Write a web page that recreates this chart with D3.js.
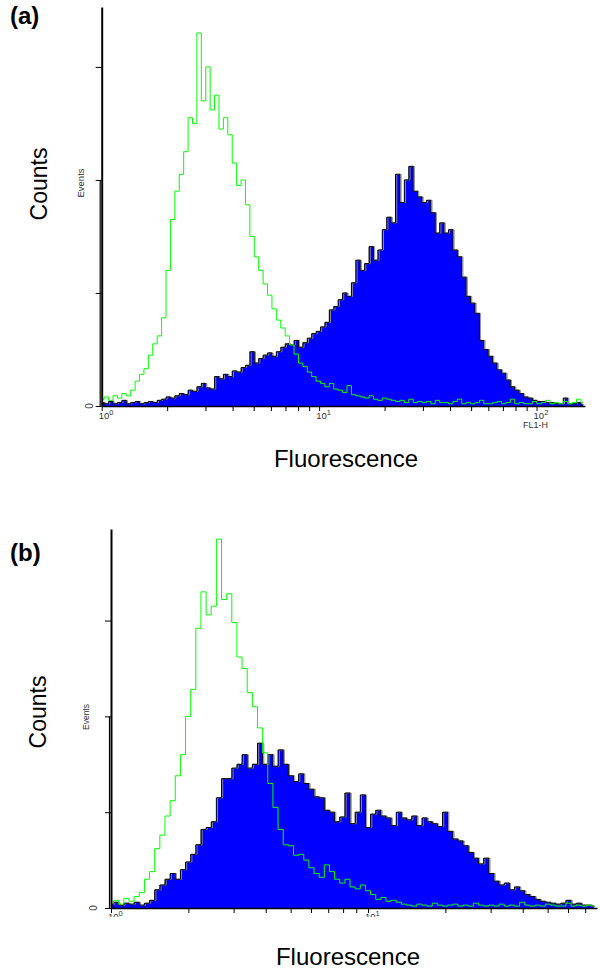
<!DOCTYPE html>
<html lang="en">
<head>
  <meta charset="UTF-8">
  <title>Fluorescence histograms</title>
  <script src="https://cdn.jsdelivr.net/npm/d3@7/dist/d3.min.js"></script>
  <style>
    body { margin: 0; background: #fff; }
    svg { display: block; font-family: "Liberation Sans", Arial, sans-serif; }
  </style>
</head>
<body>
  <svg></svg>
  <script>
    const width = 600, height = 974;

    // counts per channel (one value per log channel)
    const greenA = [6, 8, 5, 9, 7, 11, 9, 14, 22, 28, 33, 45, 55, 62, 78, 120, 165, 190, 205, 225,
      255, 250, 330, 270, 300, 262, 275, 245, 255, 240, 215, 195, 200, 178, 150, 132, 120, 108, 98, 86,
      76, 69, 62, 54, 46, 38, 35, 30, 26, 22, 20, 17, 20, 15, 14, 12, 18, 10, 9, 8,
      7, 9, 6, 5, 7, 6, 5, 4, 5, 3, 6, 3, 4, 3, 4, 2, 5, 3, 3, 2,
      4, 6, 2, 3, 2, 3, 5, 2, 2, 3, 4, 2, 3, 6, 2, 3, 2, 2, 4, 2,
      3, 5, 2, 3, 2, 4, 2, 3, 6, 3];
    const blueA = [3, 2, 4, 2, 3, 5, 2, 3, 4, 2, 3, 4, 3, 5, 6, 8, 7, 9, 11, 10,
      14, 13, 17, 20, 16, 15, 26, 24, 28, 26, 31, 30, 34, 36, 48, 38, 42, 45, 47, 44,
      48, 52, 55, 54, 58, 52, 56, 60, 64, 66, 70, 74, 85, 88, 94, 100, 97, 109, 129, 120,
      126, 141, 129, 138, 156, 167, 162, 205, 180, 200, 212, 190, 185, 180, 182, 171, 153, 162, 153, 156,
      138, 132, 114, 97, 91, 82, 58, 50, 44, 38, 32, 29, 23, 17, 14, 11, 8, 7, 5, 4,
      4, 3, 3, 2, 2, 7, 2, 2, 3, 1];
    const greenB = [5, 8, 4, 10, 7, 12, 16, 30, 38, 62, 76, 96, 112, 138, 160, 200, 228, 292, 330, 306,
      315, 385, 322, 328, 298, 262, 250, 225, 210, 188, 162, 130, 105, 82, 66, 65, 55, 56, 50, 42,
      36, 32, 45, 38, 30, 26, 30, 22, 20, 24, 18, 14, 9, 11, 7, 8, 6, 4, 3, 2,
      4, 3, 2, 5, 3, 2, 3, 4, 2, 3, 2, 5, 3, 2, 3, 2, 4, 2, 3, 2,
      6, 3, 2, 3, 2, 4, 3, 2, 2, 5, 2, 3, 2, 3, 2];
    const blueB = [4, 6, 3, 5, 4, 6, 3, 5, 8, 19, 24, 30, 36, 30, 40, 48, 56, 66, 82, 84,
      90, 115, 135, 135, 146, 150, 160, 146, 150, 172, 150, 160, 148, 165, 150, 138, 132, 140, 130, 124,
      116, 115, 102, 100, 90, 95, 120, 88, 100, 118, 84, 98, 102, 96, 94, 86, 100, 94, 92, 96,
      86, 94, 90, 88, 85, 100, 80, 72, 70, 65, 58, 52, 46, 52, 36, 28, 24, 26, 19, 22,
      18, 14, 12, 9, 7, 6, 5, 4, 5, 8, 4, 5, 3, 3, 2];

    const yTicks = [0, 100, 200, 300];
    const yTickLabels = ["0"];
    const xLabel = "Fluorescence";
    const yLabel = "Counts";
    const yUnit = "Events";
    const channelName = "FL1-H";

    // layout of the two panels
    const panels = [
      {
        tag: "(a)", green: greenA, blue: blueA, logStart: 0.0014, logStep: 0.0203,
        xMax: 167, yMax: 353, left: 101.7, right: 585, bottom: 406, top: 7,
        tagY: 24, countsY: 184, countsX: 47, eventsX: 84, eventsY: 183, eventsSize: 9.5,
        zeroX: 93, fluoX: 346, fluoY: 467, labelY: 419, showChannel: true, clipY: null
      },
      {
        tag: "(b)", green: greenB, blue: blueB, logStart: 0, logStep: 0.02,
        xMax: 77.8, yMax: 395.6, left: 111, right: 597, bottom: 908, top: 529,
        tagY: 561, countsY: 712, countsX: 46, eventsX: 89, eventsY: 717, eventsSize: 8.5,
        zeroX: 97, fluoX: 348, fluoY: 965, labelY: 920, showChannel: false, clipY: 917
      }
    ];

    const svg = d3.select("svg").attr("width", width).attr("height", height);

    panels.forEach((p, pi) => {
      const x = d3.scaleLog().domain([1, p.xMax]).range([p.left, p.right]);
      const y = d3.scaleLinear().domain([0, p.yMax]).range([p.bottom, p.top]);
      const g = svg.append("g");

      const binX = (d, i) => x(Math.pow(10, p.logStart + p.logStep * i));

      const area = d3.area().curve(d3.curveStep)
        .x(binX).y0(y(0)).y1(d => y(d));
      const line = d3.line().curve(d3.curveStep)
        .x(binX).y(d => y(d));

      // filled histogram, gray shadow then black top edge
      g.append("path").attr("d", area(p.blue)).attr("fill", "#0000ff");
      g.append("path").attr("d", line(p.blue))
        .attr("fill", "none").attr("stroke", "#8a8a8a").attr("stroke-width", 1)
        .attr("transform", "translate(1.2,0)");
      g.append("path").attr("d", line(p.blue))
        .attr("fill", "none").attr("stroke", "#000").attr("stroke-width", 1);

      // control histogram, outline only
      g.append("path").attr("d", line(p.green))
        .attr("fill", "none").attr("stroke", "#00ff00").attr("stroke-width", 1);

      // x axis
      const xAxis = g.append("g").attr("transform", `translate(0,${p.bottom})`)
        .call(d3.axisBottom(x).tickValues(x.ticks()).tickFormat("").tickSize(5).tickSizeOuter(0));
      xAxis.select(".domain").attr("stroke-width", 1.5);
      xAxis.selectAll(".tick line").attr("stroke-width", 1);

      // y axis
      const yAxis = g.append("g").attr("transform", `translate(${p.left},0)`)
        .call(d3.axisLeft(y).tickValues(yTicks).tickFormat("").tickSize(6).tickSizeOuter(0));
      yAxis.select(".domain").attr("stroke-width", 2);
      g.append("line")
        .attr("x1", p.left - 1.5).attr("x2", p.left - 1.5)
        .attr("y1", y(200)).attr("y2", y(0))
        .attr("stroke", "#000").attr("stroke-width", 1.2);

      // decade labels 10^n
      let labelG = g.append("g");
      if (p.clipY) {
        svg.append("clipPath").attr("id", "clip" + pi)
          .append("rect").attr("x", 0).attr("y", 0).attr("width", width).attr("height", p.clipY);
        labelG.attr("clip-path", `url(#clip${pi})`);
      }
      [1, 10, 100].filter(v => v <= p.xMax).forEach((v, i) => {
        const t = labelG.append("text")
          .attr("x", x(v) - 3).attr("y", p.labelY)
          .attr("font-size", 9.5).attr("fill", "#333");
        t.append("tspan").text("10");
        t.append("tspan").attr("dy", -4).attr("font-size", 7.5).text(String(i));
      });

      // zero label on y axis
      g.append("text")
        .attr("transform", `translate(${p.zeroX},${y(0)}) rotate(-90)`)
        .attr("text-anchor", "middle").attr("font-size", 10).attr("fill", "#333")
        .text(yTickLabels[0]);

      g.append("text")
        .attr("transform", `translate(${p.eventsX},${p.eventsY}) rotate(-90)`)
        .attr("text-anchor", "middle").attr("font-size", p.eventsSize).attr("fill", "#333")
        .text(yUnit);

      if (p.showChannel) {
        g.append("text")
          .attr("x", 535.5).attr("y", 428)
          .attr("text-anchor", "middle").attr("font-size", 9).attr("fill", "#333")
          .text(channelName);
      }

      g.append("text")
        .attr("x", p.fluoX).attr("y", p.fluoY)
        .attr("text-anchor", "middle").attr("font-size", 24).attr("fill", "#000")
        .text(xLabel);

      g.append("text")
        .attr("transform", `translate(${p.countsX},${p.countsY}) rotate(-90)`)
        .attr("text-anchor", "middle").attr("font-size", 23).attr("fill", "#000")
        .text(yLabel);

      g.append("text")
        .attr("x", 10).attr("y", p.tagY)
        .attr("font-size", 24).attr("font-weight", "bold")
        .text(p.tag);
    });
  </script>
</body>
</html>
